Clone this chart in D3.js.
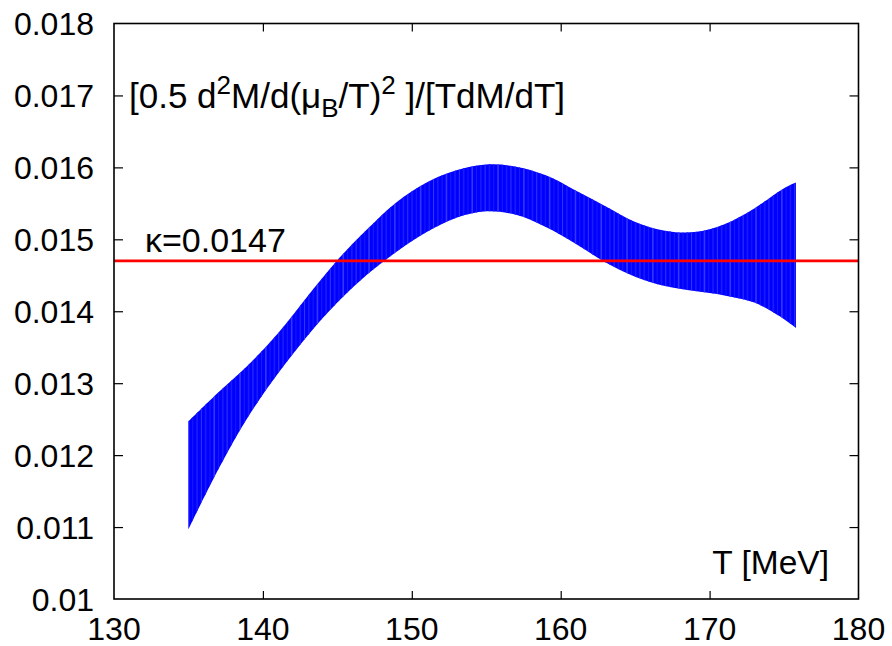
<!DOCTYPE html>
<html>
<head>
<meta charset="utf-8">
<script src="https://cdn.jsdelivr.net/npm/d3@7"></script>
<style>
  html, body { margin: 0; padding: 0; background: #fff; }
  svg { display: block; font-family: "Liberation Sans", Arial, Helvetica, sans-serif; }
</style>
</head>
<body>
<svg id="chart" width="892" height="646"></svg>
<script>
// Temperature grid [MeV]
const temps = [135, 137, 139, 141, 143, 145, 147, 149, 151, 153, 155, 157, 159, 161, 163, 165, 167, 169, 171, 173, 175, 175.8];
// Upper edge of the ratio band
const upper = [0.01247, 0.01287, 0.01325, 0.01369, 0.01421, 0.01471, 0.01514, 0.01552, 0.01579, 0.01596, 0.01604, 0.01601, 0.01589, 0.01568, 0.01546, 0.01524, 0.01512, 0.01510, 0.01521, 0.01543, 0.01571, 0.01579];
// Lower edge of the ratio band
const lower = [0.01097, 0.01180, 0.01253, 0.01313, 0.01366, 0.01412, 0.01451, 0.01483, 0.01510, 0.01530, 0.01539, 0.01534, 0.01517, 0.01494, 0.01468, 0.01448, 0.01435, 0.01428, 0.01422, 0.01412, 0.01389, 0.01377];
// Constant curvature value
const kappa = 0.0147;
// Axis ticks
const xTicks = [130, 140, 150, 160, 170, 180];
const yTicks = [0.010, 0.011, 0.012, 0.013, 0.014, 0.015, 0.016, 0.017, 0.018];
const yTickLabels = ["0.01", "0.011", "0.012", "0.013", "0.014", "0.015", "0.016", "0.017", "0.018"];

const svg = d3.select("#chart");
const plotL = 114, plotR = 858.5, plotT = 23.5, plotB = 599;

const x = d3.scaleLinear().domain([130, 180]).range([plotL, plotR]);
const y = d3.scaleLinear().domain([0.010, 0.018]).range([plotB, plotT]);

const band = temps.map((t, i) => ({ t, lo: lower[i], hi: upper[i] }));

const defs = svg.append("defs");
const area = d3.area()
  .x(d => x(d.t))
  .y0(d => y(d.lo))
  .y1(d => y(d.hi))
  .curve(d3.curveCatmullRom.alpha(0.5));

defs.append("clipPath").attr("id", "bandClip")
  .append("path").attr("d", area(band));

// Band fill
svg.append("path")
  .attr("d", area(band))
  .attr("fill", "#0000ff");

// Faint vertical striping across the band
const stripeX = d3.range(x(135), x(175.8), 4.3);
svg.append("g").attr("clip-path", "url(#bandClip)")
  .selectAll("line").data(stripeX).join("line")
  .attr("x1", d => d).attr("x2", d => d)
  .attr("y1", plotT).attr("y2", plotB)
  .attr("stroke", (d, i) => (i % 3 === 0 ? "#3535ff" : "#1a1aff"))
  .attr("stroke-width", (d, i) => (i % 2 === 0 ? 1.6 : 1));

// kappa line
svg.append("line")
  .attr("x1", plotL).attr("x2", plotR)
  .attr("y1", y(kappa)).attr("y2", y(kappa))
  .attr("stroke", "#ff0000").attr("stroke-width", 2.6);

// Frame with mirrored inward ticks
const axisStyle = g => {
  g.select(".domain").remove();
  g.selectAll(".tick line").attr("stroke", "#000").attr("stroke-width", 1.2);
  g.selectAll(".tick text").remove();
};
svg.append("g").attr("transform", `translate(0,${plotB})`)
  .call(d3.axisTop(x).tickValues(xTicks.slice(1, -1)).tickSize(8)).call(axisStyle);
svg.append("g").attr("transform", `translate(0,${plotT})`)
  .call(d3.axisBottom(x).tickValues(xTicks.slice(1, -1)).tickSize(8)).call(axisStyle);
svg.append("g").attr("transform", `translate(${plotL},0)`)
  .call(d3.axisRight(y).tickValues(yTicks.slice(1, -1)).tickSize(9)).call(axisStyle);
svg.append("g").attr("transform", `translate(${plotR},0)`)
  .call(d3.axisLeft(y).tickValues(yTicks.slice(1, -1)).tickSize(9)).call(axisStyle);

svg.append("rect")
  .attr("x", plotL).attr("y", plotT)
  .attr("width", plotR - plotL).attr("height", plotB - plotT)
  .attr("fill", "none").attr("stroke", "#000").attr("stroke-width", 1.6);

// Tick labels
svg.append("g").selectAll("text").data(yTicks).join("text")
  .attr("x", plotL - 20).attr("y", d => y(d))
  .attr("dy", "0.36em")
  .attr("text-anchor", "end")
  .attr("font-size", 32)
  .text((d, i) => yTickLabels[i]);

svg.append("g").selectAll("text").data(xTicks).join("text")
  .attr("x", d => x(d)).attr("y", 640)
  .attr("text-anchor", "middle")
  .attr("font-size", 32)
  .text(d => d);

// Axis label
svg.append("text")
  .attr("x", 829).attr("y", 574)
  .attr("text-anchor", "end")
  .attr("font-size", 33.5)
  .text("T [MeV]");

// kappa annotation
svg.append("text")
  .attr("x", 145).attr("y", 251.5)
  .attr("font-size", 34)
  .text("κ=0.0147");

// Ratio label
const title = svg.append("text").attr("x", 129).attr("y", 108).attr("font-size", 35);
title.append("tspan").text("[0.5 d");
title.append("tspan").attr("dy", -14).attr("font-size", 26).text("2");
title.append("tspan").attr("dy", 14).text("M/d(μ");
title.append("tspan").attr("dy", 9).attr("font-size", 26).text("B");
title.append("tspan").attr("dy", -9).text("/T)");
title.append("tspan").attr("dy", -14).attr("font-size", 26).text("2");
title.append("tspan").attr("dy", 14).text(" ]/[TdM/dT]");
</script>
</body>
</html>
